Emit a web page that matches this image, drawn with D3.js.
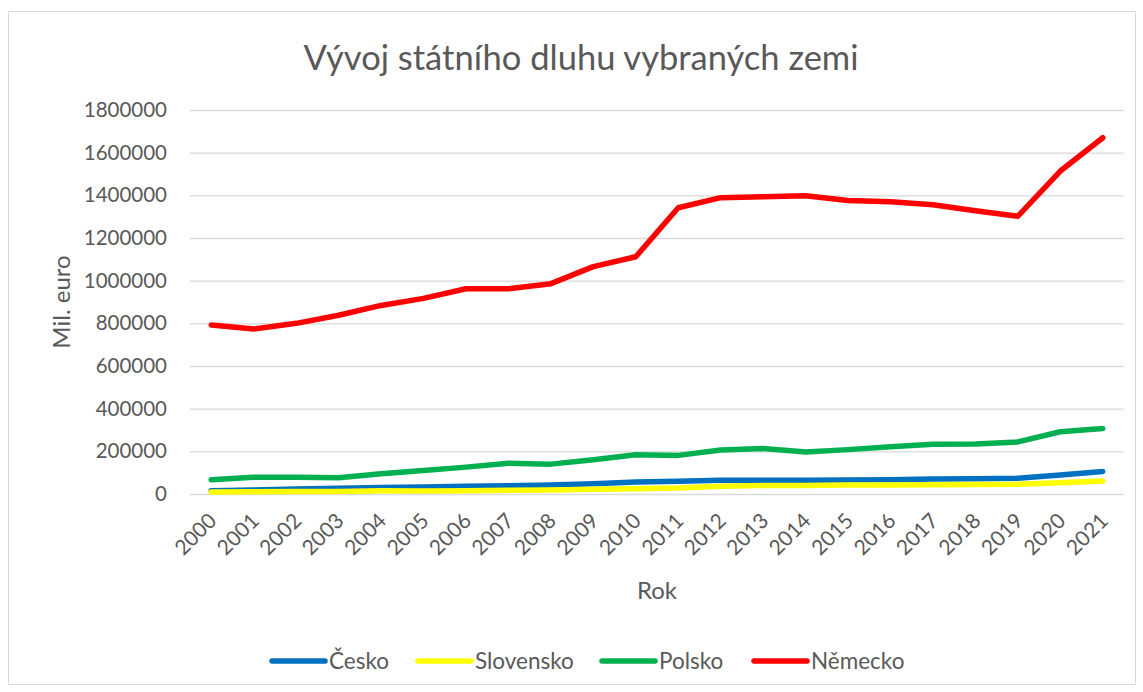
<!DOCTYPE html>
<html>
<head>
<meta charset="utf-8">
<script src="https://cdn.jsdelivr.net/npm/d3@7"></script>
<style>
  body { margin: 0; background: #fff; }
  svg text { font-family: Lato, "Open Sans", sans-serif; fill: #595959; }
</style>
</head>
<body>
<svg id="chart" width="1143" height="692"></svg>
<script>
// data (mil. euro)
const years = ["2000","2001","2002","2003","2004","2005","2006","2007","2008","2009","2010",
  "2011","2012","2013","2014","2015","2016","2017","2018","2019","2020","2021"];
const cesko = [15000,19000,24000,27000,30000,33000,36000,39000,42000,48000,56000,
  60000,64000,65000,65000,66000,67000,70000,71000,74000,89000,106000];
const slovensko = [9000,11000,11500,12000,15000,14000,15000,17000,18500,22000,25000,
  28000,36000,40000,40000,42000,42000,43000,44000,46000,53000,61000];
const polsko = [67000,78000,78000,76000,95000,110000,126000,144000,140000,161000,184000,
  181000,206000,213000,197000,208000,222000,233000,234000,244000,292000,307000];
const nemecko = [792000,773000,800000,838000,884000,917000,962000,962000,986000,1066000,1112000,
  1342000,1389000,1393000,1398000,1376000,1370000,1356000,1328000,1302000,1514000,1670000];
const yTicks = [0,200000,400000,600000,800000,1000000,1200000,1400000,1600000,1800000];

const series = [
  {name: "Česko", values: cesko, color: "#0070C0"},
  {name: "Slovensko", values: slovensko, color: "#FFFF00"},
  {name: "Polsko", values: polsko, color: "#00B050"},
  {name: "Německo", values: nemecko, color: "#FF0000"}
];

const svg = d3.select("#chart");

// ramecek grafu
svg.append("rect")
  .attr("x", 8.5).attr("y", 11.5)
  .attr("width", 1127).attr("height", 673)
  .attr("fill", "#fff").attr("stroke", "#d9d9d9");

const plotL = 190, plotR = 1124, plotT = 110, plotB = 494;

let x = d3.scalePoint().domain(years).range([plotL, plotR]).padding(0.5);
let y = d3.scaleLinear().domain([0, 1800000]).range([plotB, plotT]);

// mrizka + popisky osy Y
let gy = svg.append("g")
  .attr("transform", `translate(${plotL},0)`)
  .call(d3.axisLeft(y).tickValues(yTicks).tickSize(-(plotR - plotL)).tickPadding(23).tickFormat(d3.format("d")));
gy.select(".domain").remove();
gy.selectAll("line").attr("stroke", "#d9d9d9").attr("stroke-width", 1.3);
gy.selectAll("text").style("font-size", "20.5px").attr("fill", "#595959");

// osa X - sikme popisky
let gx = svg.append("g")
  .attr("transform", `translate(0,${plotB})`)
  .call(d3.axisBottom(x).tickSize(0));
gx.select(".domain").remove();
gx.selectAll("text")
  .style("font-size", "21px")
  .style("text-anchor", "end")
  .attr("fill", "#595959")
  .attr("dy", "0")
  .attr("transform", "translate(4,26) rotate(-45)");

// nadpisy
svg.append("text")
  .attr("x", 581).attr("y", 70)
  .attr("text-anchor", "middle")
  .style("font-size", "34.5px")
  .text("Vývoj státního dluhu vybraných zemi");

svg.append("text")
  .attr("x", 657).attr("y", 599)
  .attr("text-anchor", "middle")
  .style("font-size", "24px")
  .text("Rok");

svg.append("text")
  .attr("transform", "translate(70,302) rotate(-90)")
  .attr("text-anchor", "middle")
  .style("font-size", "24px")
  .text("Mil. euro");

// cary
let line = d3.line()
  .x((d, i) => x(years[i]))
  .y(d => y(d));

series.forEach(s => {
  svg.append("path")
    .datum(s.values)
    .attr("d", line)
    .attr("fill", "none")
    .attr("stroke", s.color)
    .attr("stroke-width", 5.5)
    .attr("stroke-linejoin", "round")
    .attr("stroke-linecap", "round");
});

// legenda
const legendX = [272, 418, 602, 754];
let lg = svg.append("g");
series.forEach((s, i) => {
  let g = lg.append("g").attr("transform", `translate(${legendX[i]},661)`);
  g.append("line")
    .attr("x1", 0).attr("x2", 53)
    .attr("stroke", s.color).attr("stroke-width", 5.5)
    .attr("stroke-linecap", "round");
  g.append("text")
    .attr("x", 57).attr("y", 8)
    .style("font-size", "22.5px")
    .text(s.name);
});
</script>
</body>
</html>
